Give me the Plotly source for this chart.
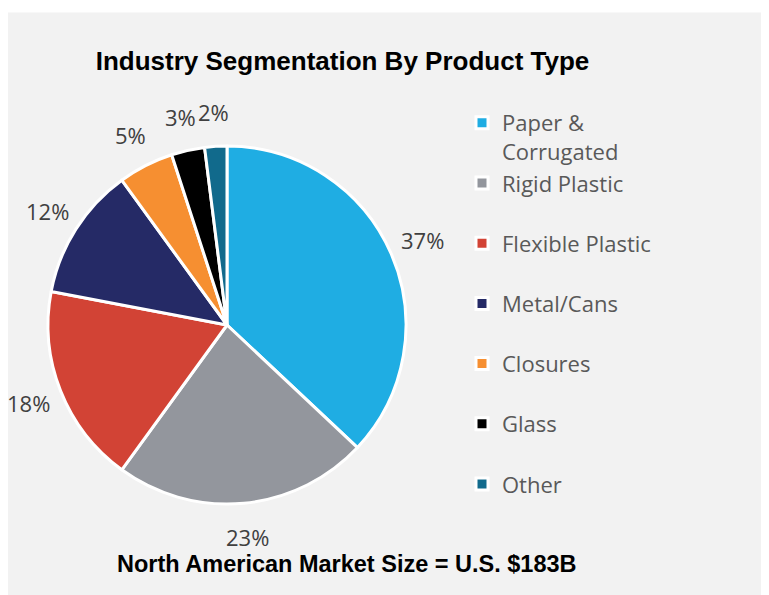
import math
import plotly.graph_objects as go

categories = ["Paper &<br>Corrugated", "Rigid Plastic<br> ", "Flexible Plastic<br> ",
              "Metal/Cans<br> ", "Closures<br> ", "Glass<br> ", "Other"]
values = [37, 23, 18, 12, 5, 3, 2]
pct_labels = ["37%", "23%", "18%", "12%", "5%", "3%", "2%"]
colors = ["#1FADE3", "#93969D", "#D24335", "#252A66", "#F68F31", "#000000", "#116A8C"]

title_text = "Industry Segmentation By Product Type"
footer_text = "North American Market Size = U.S. $183B"

W, H = 769, 595
# page offset of the figure inside the browser page (body margin)
OX, OY = 8, 7.5


def px(x):
    return (x - OX) / W


def py(y):
    return 1 - (y - OY) / H


# pie geometry (page pixels)
CX, CY, R = 227, 324.5, 179
LABEL_R = 213
FONT = "Open Sans, Noto Sans, sans-serif"
LABEL_SIZE = 22

fig = go.Figure()
fig.add_trace(go.Pie(
    labels=categories,
    values=values,
    sort=False,
    direction="clockwise",
    rotation=0,
    marker=dict(colors=colors, line=dict(color="white", width=3)),
    textinfo="none",
    domain=dict(x=[px(CX - R), px(CX + R)], y=[py(CY + R), py(CY - R)]),
    hoverinfo="label+percent",
))

# percentage labels placed just outside each slice, derived from the values
annotations = []
total = sum(values)
cum = 0
for v, txt in zip(values, pct_labels):
    mid = (cum + v / 2) / total * 2 * math.pi
    cum += v
    lx = CX + LABEL_R * math.sin(mid)
    ly = CY - LABEL_R * math.cos(mid)
    annotations.append(dict(text=txt, xref="paper", yref="paper", x=px(lx), y=py(ly),
                            xanchor="center", yanchor="middle", showarrow=False,
                            font=dict(family=FONT, size=LABEL_SIZE, color="#404040")))

annotations.append(dict(text="<b>" + footer_text + "</b>", xref="paper", yref="paper",
                        x=px(347), y=py(563), xanchor="center", yanchor="middle", showarrow=False,
                        font=dict(family="Liberation Sans, Arial, sans-serif", size=23.5, color="black")))

fig.update_layout(
    width=W, height=H,
    margin=dict(l=0, r=0, t=0, b=0, autoexpand=False),
    paper_bgcolor="white",
    plot_bgcolor="white",
    title=dict(text="<b>" + title_text + "</b>", x=px(342.5), xanchor="center",
               y=py(60), yanchor="middle",
               font=dict(family="Liberation Sans, Arial, sans-serif", size=26, color="black")),
    legend=dict(x=px(462), xanchor="left", y=py(101.5), yanchor="top",
                valign="top", bgcolor="rgba(0,0,0,0)",
                font=dict(family=FONT, size=22, color="#595959")),
    shapes=[dict(type="rect", xref="paper", yref="paper", x0=px(5), x1=1, y0=0, y1=py(12),
                 fillcolor="#F2F2F2", line=dict(width=0), layer="below")],
    annotations=annotations,
)

fig.write_html("out.html")
